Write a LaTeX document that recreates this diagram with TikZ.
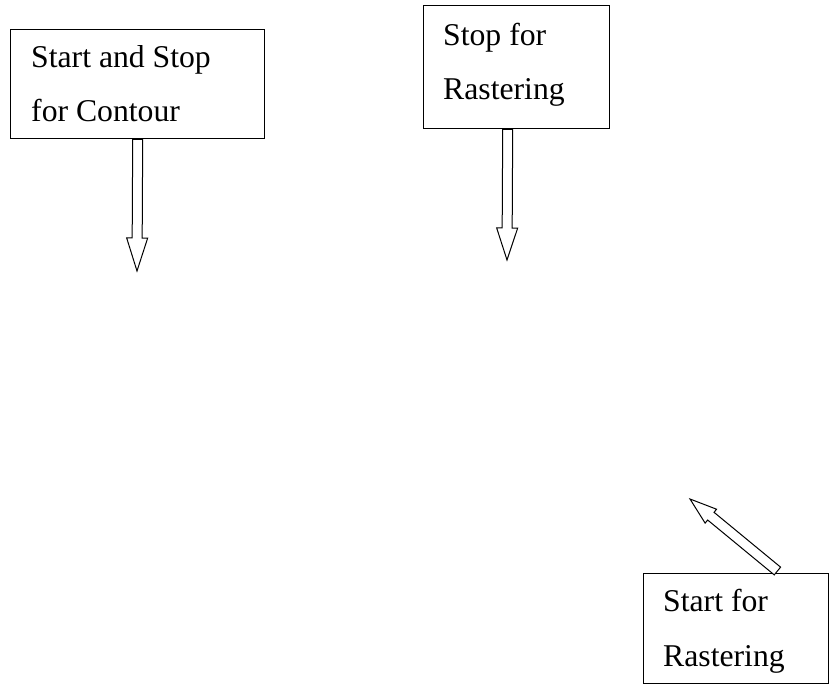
\documentclass[tikz,border=0pt]{standalone}
\usepackage{fontspec}
\setmainfont{Liberation Serif}
\usetikzlibrary{calc}
\tikzset{
  boxstyle/.style={draw=black, line width=1.4pt, fill=white, inner sep=0pt},
  labelstyle/.style={inner sep=0pt, anchor=base west, align=left, font=\fontsize{31.7}{54.5}\selectfont},
  arrowstyle/.style={draw=black, line width=1pt, fill=white, line join=miter}
}
% block arrow: start, end, shaft half width, head half width, head length
\newcommand{\myblockarrow}[5]{%
  \coordinate (hb) at ($(#2)!#5!(#1)$);
  \draw[arrowstyle] ($(#1)!#3!90:(#2)$) -- ($(hb)!#3!-90:(#1)$) -- ($(hb)!#4!-90:(#1)$) -- (#2)
    -- ($(hb)!#4!90:(#1)$) -- ($(hb)!#3!90:(#1)$) -- ($(#1)!#3!-90:(#2)$) -- cycle;
}
\begin{document}
\begin{tikzpicture}[x=1pt,y=-1pt]
\useasboundingbox (0,0) rectangle (829,692);
% boxes
\node[boxstyle, minimum width=254pt, minimum height=109pt, anchor=north west] (box1) at (10,29) {};
\node[boxstyle, minimum width=186pt, minimum height=123pt, anchor=north west] (box2) at (423,5) {};
\node[boxstyle, minimum width=185pt, minimum height=110pt, anchor=north west] (box3) at (643,573) {};
% texts (anchored at the baseline of their last line)
\node[labelstyle] (t1) at (31,122) {Start and Stop\\for Contour};
\node[labelstyle] (t2) at (443,100) {Stop for\\Rastering};
\node[labelstyle] (t3) at (663,666) {Start for\\Rastering};
% arrow end points
\coordinate (a1s) at (box1.south);
\coordinate (a1e) at (137,271);
\coordinate (a2s) at ($(box2.south)+(-9,0)$);
\coordinate (a2e) at (507,260);
\coordinate (a3s) at ($(box3.north east)+(-52,-2)$);
\coordinate (a3e) at (690,499);
\myblockarrow{a1s}{a1e}{5pt}{10.5pt}{33pt}
\myblockarrow{a2s}{a2e}{5pt}{10.5pt}{32pt}
\myblockarrow{a3s}{a3e}{5pt}{9pt}{27pt}
\end{tikzpicture}
\end{document}
